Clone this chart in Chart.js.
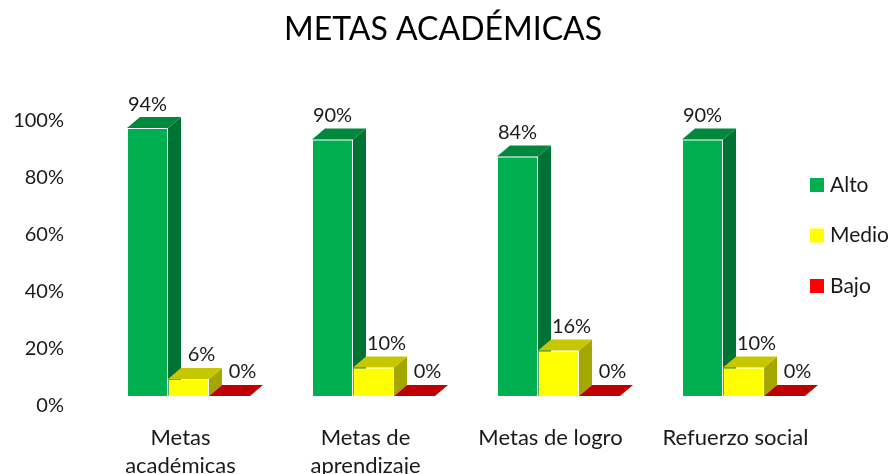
<!DOCTYPE html>
<html>
<head>
<meta charset="utf-8">
<script src="https://cdn.jsdelivr.net/npm/chart.js@4.4.0/dist/chart.umd.min.js"></script>
<style>
  html, body { margin: 0; padding: 0; background: #fff; }
</style>
</head>
<body>
<canvas id="metasChart" width="892" height="474"></canvas>
<script>
// --- data ---
const chartTitle = 'METAS ACADÉMICAS';
const categories = [['Metas', 'académicas'], ['Metas de', 'aprendizaje'], 'Metas de logro', 'Refuerzo social'];
const altoVals = [94, 90, 84, 90];
const medioVals = [6, 10, 16, 10];
const bajoVals = [0, 0, 0, 0];
const seriesNames = ['Alto', 'Medio', 'Bajo'];
const seriesColors = ['#00B050', '#FFFF00', '#FF0000'];

const FONT = 'Lato, "Open Sans", sans-serif';
const TEXT = '#1a1a1a';
const DX = 13, DY = 11; // fake depth

function shade(hex, f) {
    const n = parseInt(hex.slice(1), 16);
    const r = Math.round(((n >> 16) & 255) * f);
    const g = Math.round(((n >> 8) & 255) * f);
    const b = Math.round((n & 255) * f);
    return `rgb(${r},${g},${b})`;
}

// side + top faces, drawn before the front faces
const bar3d = {
    id: 'bar3d',
    beforeDatasetsDraw(chart) {
        const ctx = chart.ctx;
        ctx.save();
        chart.data.datasets.forEach((ds, di) => {
            chart.getDatasetMeta(di).data.forEach(bar => {
                const { x, y, base, width } = bar.getProps(['x', 'y', 'base', 'width'], true);
                const l = x - width / 2, r = x + width / 2;
                ctx.fillStyle = shade(ds.backgroundColor, 0.65);
                ctx.beginPath();
                ctx.moveTo(r, y); ctx.lineTo(r + DX, y - DY);
                ctx.lineTo(r + DX, base - DY); ctx.lineTo(r, base);
                ctx.closePath(); ctx.fill();

                ctx.fillStyle = shade(ds.backgroundColor, ds.topShade);
                ctx.beginPath();
                ctx.moveTo(l, y); ctx.lineTo(l + DX, y - DY);
                ctx.lineTo(r + DX, y - DY); ctx.lineTo(r, y);
                ctx.closePath(); ctx.fill();
            });
        });
        ctx.restore();
    },
    afterDatasetsDraw(chart) {
        const ctx = chart.ctx;
        ctx.save();
        ctx.font = `20px ${FONT}`;
        ctx.fillStyle = TEXT;
        ctx.textAlign = 'center';
        ctx.textBaseline = 'middle';
        chart.data.datasets.forEach((ds, di) => {
            chart.getDatasetMeta(di).data.forEach((bar, i) => {
                const off = di === 0 ? 0 : DX;
                ctx.fillText(ds.data[i] + '%', bar.x + off, bar.y - DY - 13);
            });
        });
        ctx.restore();
    },
    afterDraw(chart) {
        const ctx = chart.ctx;
        ctx.save();
        // title, centred on the whole canvas
        ctx.font = `32px ${FONT}`;
        ctx.fillStyle = '#000';
        ctx.textAlign = 'center';
        ctx.textBaseline = 'middle';
        ctx.fillText(chartTitle, chart.width / 2 - 3, 30);

        // legend on the right, over the padding
        ctx.font = `21px ${FONT}`;
        ctx.textAlign = 'left';
        const x0 = chart.chartArea.right - 26;
        const y0 = chart.height / 2 - 52;
        chart.data.datasets.forEach((ds, i) => {
            const y = y0 + i * 50.5;
            ctx.fillStyle = seriesColors[i];
            ctx.fillRect(x0, y - 7, 14, 14);
            ctx.fillStyle = TEXT;
            ctx.fillText(ds.label, x0 + 20, y);
        });
        ctx.restore();
    }
};

const makeSet = (i, data, topShade) => ({
    label: seriesNames[i],
    data: data,
    backgroundColor: seriesColors[i],
    topShade: topShade,
    borderColor: 'rgba(255,255,255,0.35)',
    borderWidth: 1,
    categoryPercentage: 0.665,
    barPercentage: 1
});

new Chart(document.getElementById('metasChart'), {
    type: 'bar',
    data: {
        labels: categories,
        datasets: [
            makeSet(0, altoVals, 0.78),
            makeSet(1, medioVals, 0.78),
            makeSet(2, bajoVals, 0.75)
        ]
    },
    options: {
        responsive: false,
        animation: false,
        layout: { padding: { left: 0, right: 56, top: 111, bottom: 0 } },
        plugins: {
            legend: { display: false },
            tooltip: { enabled: false },
            title: { display: false }
        },
        scales: {
            x: {
                grid: { display: false },
                border: { display: false },
                ticks: {
                    color: TEXT,
                    font: { family: FONT, size: 22, lineHeight: 1.27 },
                    padding: 20,
                    labelOffset: -8,
                    maxRotation: 0,
                    autoSkip: false
                },
                afterFit: (s) => { s.height = 78; }
            },
            y: {
                min: 0,
                max: 100,
                grid: { display: false, drawTicks: false },
                border: { display: false },
                ticks: {
                    stepSize: 20,
                    color: TEXT,
                    font: { family: FONT, size: 20 },
                    padding: 32,
                    labelOffset: 10,
                    callback: (v) => v + '%'
                },
                afterFit: (s) => { s.width = 96; }
            }
        }
    },
    plugins: [bar3d]
});
</script>
</body>
</html>
